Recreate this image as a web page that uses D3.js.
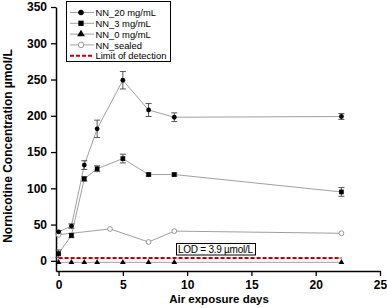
<!DOCTYPE html>
<html>
<head>
<meta charset="utf-8">
<script src="https://cdn.jsdelivr.net/npm/d3@7"></script>
<style>
  body { margin: 0; background: #fff; }
  text { font-family: "Liberation Sans", Arial, sans-serif; }
</style>
</head>
<body>
<svg id="chart" width="387" height="308"></svg>
<script>
// data
const days = [0, 1, 2, 3, 5, 7, 9, 22];
const nn20 = [40, 48, 132, 182, 249, 208, 198, 199];
const nn20Err = [2, 3, 6, 12, 12, 9, 6, 4];
const nn3 = [10, 35, 113, 127, 141, 119, 119, 95];
const nn3Err = [5, 3, 3, 4, 6, 2, 2, 6];
const nn0 = [-2, -2, -2, -2, -2, -2, -2, -2];
const sealedDays = [0, 4, 7, 9, 22];
const sealed = [36, 44, 26, 41, 38];
const lod = 3.9;
const xTicks = [0, 5, 10, 15, 20, 25];
const yTicks = [0, 50, 100, 150, 200, 250, 300, 350];
const legendLabels = ['NN_20 mg/mL', 'NN_3 mg/mL', 'NN_0 mg/mL', 'NN_sealed', 'Limit of detection'];

const svg = d3.select('#chart');

const x = d3.scaleLinear().domain([-0.2, 25]).range([56, 380]);
const y = d3.scaleLinear().domain([-14, 350]).range([271, 7]);

const lineColor = '#a0a0a0';

// axes
const xAxis = svg.append('g')
  .attr('transform', 'translate(0,271)')
  .call(d3.axisBottom(x).tickValues(xTicks).tickSize(5).tickPadding(4).tickSizeOuter(0));
const yAxis = svg.append('g')
  .attr('transform', 'translate(56,0)')
  .call(d3.axisLeft(y).tickValues(yTicks).tickSize(5).tickPadding(4).tickSizeOuter(0));

[xAxis, yAxis].forEach(g => {
  g.select('.domain').attr('stroke', '#000').attr('stroke-width', 1.5);
  g.selectAll('.tick line').attr('stroke', '#000').attr('stroke-width', 1.3);
  g.selectAll('.tick text')
    .attr('font-size', 12).attr('font-weight', 'bold').attr('fill', '#000')
    .style('font-family', '"Liberation Sans", Arial, sans-serif');
});

// axis titles
svg.append('text')
  .attr('x', 219).attr('y', 303)
  .attr('text-anchor', 'middle')
  .attr('font-size', 11.5).attr('font-weight', 'bold')
  .text('Air exposure days');
svg.append('text')
  .attr('transform', 'translate(12,146) rotate(-90)')
  .attr('text-anchor', 'middle')
  .attr('font-size', 12).attr('font-weight', 'bold')
  .text('Nornicotine Concentration µmol/L');

const line = d3.line().x(d => x(d[0])).y(d => y(d[1]));

// LOD line
svg.append('path')
  .attr('d', line([[0, lod], [22, lod]]))
  .attr('stroke', '#c00000').attr('stroke-width', 2)
  .attr('stroke-dasharray', '4,2').attr('fill', 'none');

const zip = (xs, ys) => xs.map((d, i) => [d, ys[i]]);

// series lines
[zip(days, nn0), zip(sealedDays, sealed), zip(days, nn3), zip(days, nn20)].forEach(pts => {
  svg.append('path')
    .attr('d', line(pts))
    .attr('stroke', lineColor).attr('stroke-width', 1).attr('fill', 'none');
});

// error bars
function errorBars(vals, errs) {
  const g = svg.append('g').attr('stroke', '#555').attr('stroke-width', 1);
  days.forEach((d, i) => {
    const cx = x(d), y1 = y(vals[i] - errs[i]), y2 = y(vals[i] + errs[i]);
    g.append('line').attr('x1', cx).attr('x2', cx).attr('y1', y1).attr('y2', y2);
    g.append('line').attr('x1', cx - 3).attr('x2', cx + 3).attr('y1', y1).attr('y2', y1);
    g.append('line').attr('x1', cx - 3).attr('x2', cx + 3).attr('y1', y2).attr('y2', y2);
  });
}
errorBars(nn20, nn20Err);
errorBars(nn3, nn3Err);

const sym = (type, size) => d3.symbol().type(type).size(size)();

function markers(xs, vals, type, size, fill, stroke) {
  svg.append('g').selectAll('path')
    .data(zip(xs, vals))
    .join('path')
    .attr('transform', d => `translate(${x(d[0])},${y(d[1])})`)
    .attr('d', sym(type, size))
    .attr('fill', fill)
    .attr('stroke', stroke)
    .attr('stroke-width', 1);
}
markers(sealedDays, sealed, d3.symbolCircle, 18, '#fff', '#999');
markers(days, nn0, d3.symbolTriangle, 14, '#000', 'none');
markers(days, nn3, d3.symbolSquare, 22, '#000', 'none');
markers(days, nn20, d3.symbolCircle, 18, '#000', 'none');

// LOD label
const lodG = svg.append('g');
lodG.append('rect')
  .attr('x', 176.5).attr('y', 243.5).attr('width', 79).attr('height', 11.5)
  .attr('fill', '#fff').attr('stroke', '#000').attr('stroke-width', 1);
lodG.append('text')
  .attr('x', 178).attr('y', 252.8)
  .attr('font-size', 10)
  .attr('textLength', 75)
  .text('LOD = 3.9 µmol/L');

// legend
const leg = svg.append('g');
leg.append('rect')
  .attr('x', 66.5).attr('y', 1.5).attr('width', 104).attr('height', 60)
  .attr('fill', '#fff').attr('stroke', '#000').attr('stroke-width', 1);
const legendStyles = [
  {type: d3.symbolCircle, size: 24, fill: '#000', stroke: 'none'},
  {type: d3.symbolSquare, size: 28, fill: '#000', stroke: 'none'},
  {type: d3.symbolTriangle, size: 26, fill: '#000', stroke: 'none'},
  {type: d3.symbolCircle, size: 24, fill: '#fff', stroke: '#999'},
  null
];
legendLabels.forEach((lab, i) => {
  const ly = 12.5 + i * 10.8;
  if (legendStyles[i]) {
    leg.append('line').attr('x1', 70).attr('x2', 94).attr('y1', ly).attr('y2', ly)
      .attr('stroke', lineColor).attr('stroke-width', 1);
    const s = legendStyles[i];
    leg.append('path')
      .attr('transform', `translate(81,${ly})`)
      .attr('d', sym(s.type, s.size))
      .attr('fill', s.fill).attr('stroke', s.stroke);
  } else {
    leg.append('line').attr('x1', 70).attr('x2', 94).attr('y1', ly).attr('y2', ly)
      .attr('stroke', '#c00000').attr('stroke-width', 2).attr('stroke-dasharray', '4,2');
  }
  leg.append('text')
    .attr('x', 95.5).attr('y', ly + 3.6)
    .attr('font-size', 9.4)
    .text(lab);
});
</script>
</body>
</html>
